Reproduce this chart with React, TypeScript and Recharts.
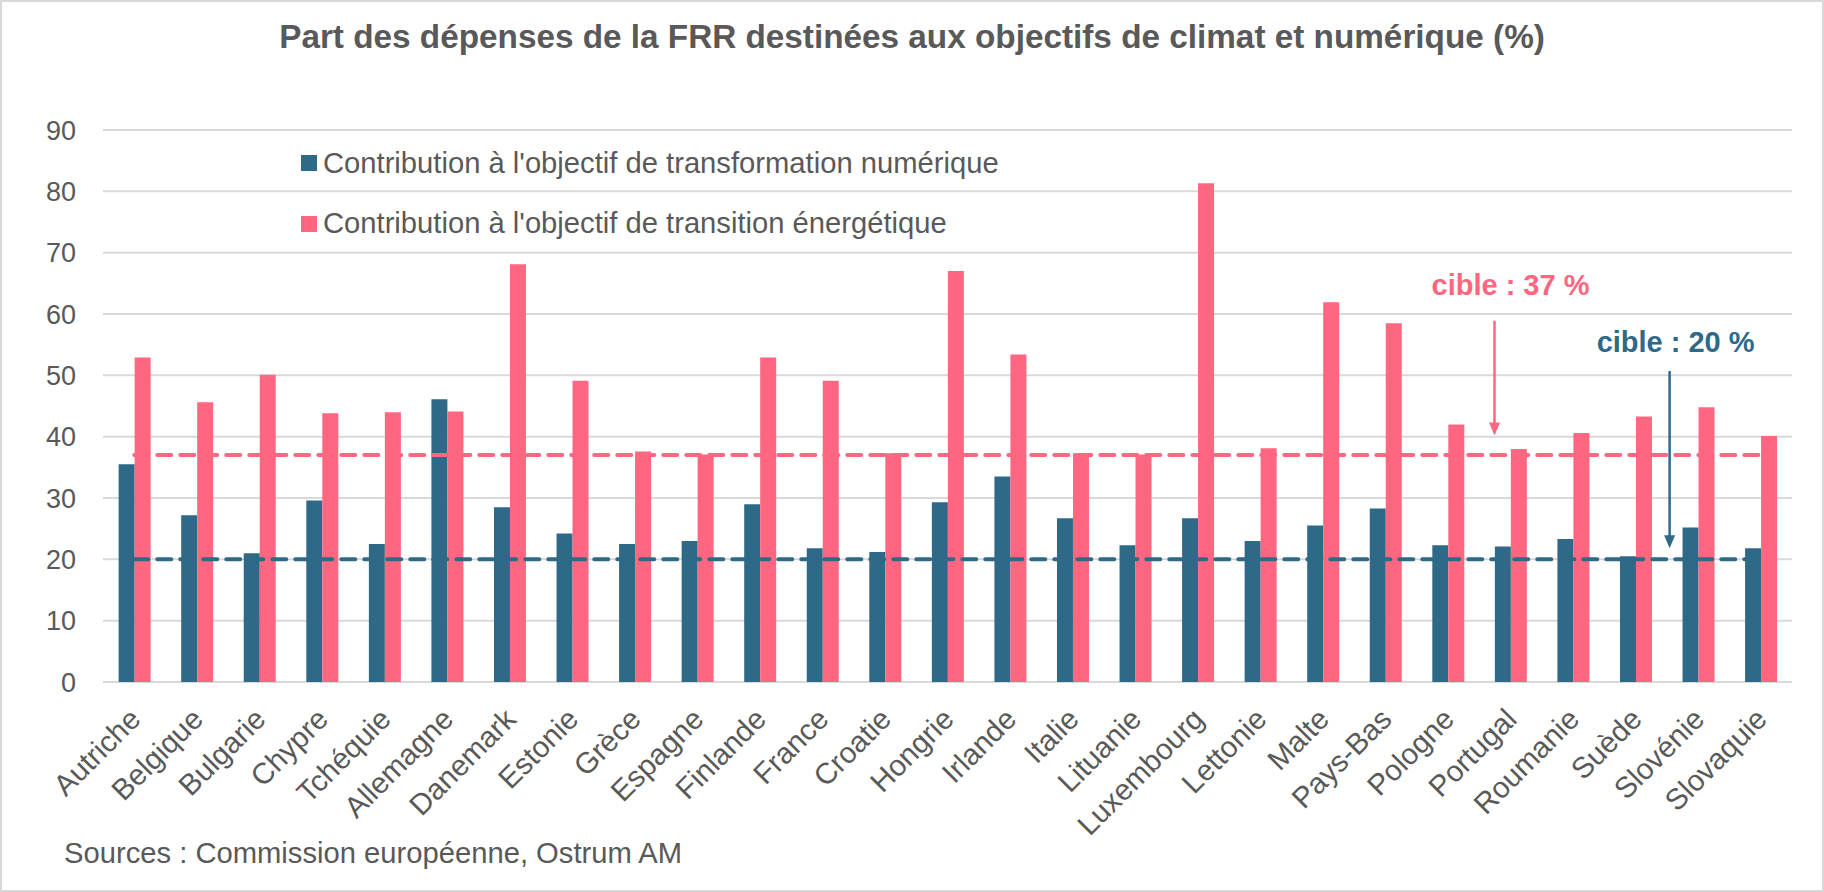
import React from 'react';
import {
  ComposedChart,
  Bar,
  XAxis,
  YAxis,
  CartesianGrid,
  ReferenceLine,
  ReferenceDot,
  Legend,
} from 'recharts';

// pays, dans l'ordre de l'axe
const pays = [
  'Autriche', 'Belgique', 'Bulgarie', 'Chypre', 'Tchéquie', 'Allemagne', 'Danemark',
  'Estonie', 'Grèce', 'Espagne', 'Finlande', 'France', 'Croatie', 'Hongrie', 'Irlande',
  'Italie', 'Lituanie', 'Luxembourg', 'Lettonie', 'Malte', 'Pays-Bas', 'Pologne',
  'Portugal', 'Roumanie', 'Suède', 'Slovénie', 'Slovaquie',
];

// Contribution à l'objectif de transformation numérique (%)
const numerique = [
  35.5, 27.2, 21.0, 29.6, 22.5, 46.1, 28.5, 24.2, 22.5, 23.0, 29.0, 21.8, 21.2, 29.3,
  33.5, 26.7, 22.3, 26.7, 23.0, 25.5, 28.3, 22.3, 22.1, 23.3, 20.5, 25.2, 21.8,
];

// Contribution à l'objectif de transition énergétique (%)
const energetique = [
  52.9, 45.6, 50.1, 43.8, 44.0, 44.1, 68.1, 49.1, 37.6, 37.1, 52.9, 49.1, 37.3, 67.0,
  53.4, 37.3, 37.1, 81.3, 38.1, 61.9, 58.5, 42.0, 38.0, 40.6, 43.3, 44.8, 40.1,
];

const yTicks = [0, 10, 20, 30, 40, 50, 60, 70, 80, 90];

const cibleClimat = 37;
const cibleNumerique = 20;

// annotations : texte, position (pays + valeurs) des flèches
const noteClimat = { texte: 'cible : 37 %', pays: 'Portugal', texteY: 63.1, haut: 58.9, bas: 40.2 };
const noteNumerique = { texte: 'cible : 20 %', pays: 'Suède', texteY: 53.8, haut: 50.7, bas: 21.8 };

const BLEU = '#2E6987';
const ROSE = '#FF6680';
const GRIS = '#595959';
const FONT = "'Liberation Sans', Arial, Helvetica, sans-serif";

const data = pays.map((p, i) => ({ pays: p, numerique: numerique[i], energetique: energetique[i] }));

const legendItems = [
  { label: "Contribution à l'objectif de transformation numérique", color: BLEU },
  { label: "Contribution à l'objectif de transition énergétique", color: ROSE },
];

const LegendBox = () => (
  <div style={{ fontFamily: FONT }}>
    {legendItems.map((it) => (
      <div key={it.label} style={{ display: 'flex', alignItems: 'center', height: 60.5 }}>
        <span style={{ width: 16, height: 16, background: it.color, marginRight: 6, display: 'inline-block' }} />
        <span style={{ fontSize: 29.2, color: GRIS, whiteSpace: 'nowrap' }}>{it.label}</span>
      </div>
    ))}
  </div>
);

const PaysTick = (props: any) => {
  const { x, y, payload } = props;
  return (
    <text
      transform={`translate(${x + 8},${y + 31}) rotate(-45)`}
      textAnchor="end"
      fontSize={29.5}
      fill={GRIS}
      fontFamily={FONT}
    >
      {payload.value}
    </text>
  );
};

const fleche = (color: string, dx: number) => (p: any) => {
  const x = p.x1 + dx;
  const top = Math.min(p.y1, p.y2);
  const tip = Math.max(p.y1, p.y2);
  const head = 13;
  return (
    <g>
      <line x1={x} y1={top} x2={x} y2={tip - head + 1} stroke={color} strokeWidth={2.5} />
      <polygon points={`${x - 5.5},${tip - head} ${x + 5.5},${tip - head} ${x},${tip}`} fill={color} />
    </g>
  );
};

const texte = (color: string, label: string, dx: number) => (p: any) => (
  <text
    x={p.cx + dx}
    y={p.cy}
    textAnchor="middle"
    fontSize={29}
    fontWeight="bold"
    fill={color}
    fontFamily={FONT}
  >
    {label}
  </text>
);

export default function App() {
  return (
    <div style={{ position: 'absolute', left: 0, top: 0, width: 1824, height: 892, background: '#fff', fontFamily: FONT }}>
      <div
        style={{
          position: 'absolute',
          left: 0,
          top: 20,
          width: 1824,
          textAlign: 'center',
          fontSize: 33.3,
          lineHeight: '33px',
          fontWeight: 'bold',
          color: GRIS,
        }}
      >
        Part des dépenses de la FRR destinées aux objectifs de climat et numérique (%)
      </div>

      <div style={{ position: 'absolute', left: 0, top: 0 }}>
        <ComposedChart
          width={1824}
          height={892}
          data={data}
          margin={{ top: 130, right: 32, left: 0, bottom: 80 }}
          barCategoryGap="25%"
          barGap={0}
        >
          <CartesianGrid vertical={false} stroke="#D9D9D9" strokeWidth={2} />
          <XAxis
            dataKey="pays"
            interval={0}
            height={130}
            axisLine={false}
            tickLine={false}
            tick={<PaysTick />}
          />
          <YAxis
            domain={[0, 90]}
            ticks={yTicks}
            width={103}
            axisLine={false}
            tickLine={false}
            tickMargin={21}
            tick={{ fontSize: 27, fill: GRIS, fontFamily: FONT }}
          />
          <Legend
            layout="vertical"
            align="center"
            verticalAlign="middle"
            content={<LegendBox />}
            wrapperStyle={{ left: 301, top: 133, width: 'auto', height: 'auto' }}
          />
          <Bar dataKey="numerique" fill={BLEU} isAnimationActive={false} />
          <Bar dataKey="energetique" fill={ROSE} isAnimationActive={false} />

          <ReferenceLine
            segment={[{ x: pays[0], y: cibleClimat }, { x: pays[pays.length - 1], y: cibleClimat }]}
            stroke={ROSE}
            strokeWidth={4}
            strokeDasharray="14 9"
            strokeLinecap="round"
          />
          <ReferenceLine
            segment={[{ x: pays[0], y: cibleNumerique }, { x: pays[pays.length - 1], y: cibleNumerique }]}
            stroke={BLEU}
            strokeWidth={4}
            strokeDasharray="14 9"
            strokeLinecap="round"
          />

          <ReferenceLine
            segment={[{ x: noteClimat.pays, y: noteClimat.haut }, { x: noteClimat.pays, y: noteClimat.bas }]}
            shape={fleche(ROSE, -16)}
          />
          <ReferenceDot
            x={noteClimat.pays}
            y={noteClimat.texteY}
            r={0}
            shape={texte(ROSE, noteClimat.texte, 0)}
          />
          <ReferenceLine
            segment={[{ x: noteNumerique.pays, y: noteNumerique.haut }, { x: noteNumerique.pays, y: noteNumerique.bas }]}
            shape={fleche(BLEU, 34)}
          />
          <ReferenceDot
            x={noteNumerique.pays}
            y={noteNumerique.texteY}
            r={0}
            shape={texte(BLEU, noteNumerique.texte, 40)}
          />
        </ComposedChart>
      </div>

      <div
        style={{
          position: 'absolute',
          left: 64,
          top: 839,
          fontSize: 29.2,
          lineHeight: '29px',
          color: GRIS,
          whiteSpace: 'nowrap',
        }}
      >
        Sources : Commission européenne, Ostrum AM
      </div>

      <div
        style={{
          position: 'absolute',
          left: 0,
          top: 0,
          width: 1824,
          height: 892,
          boxSizing: 'border-box',
          border: '2px solid #D9D9D9',
          pointerEvents: 'none',
        }}
      />
    </div>
  );
}
